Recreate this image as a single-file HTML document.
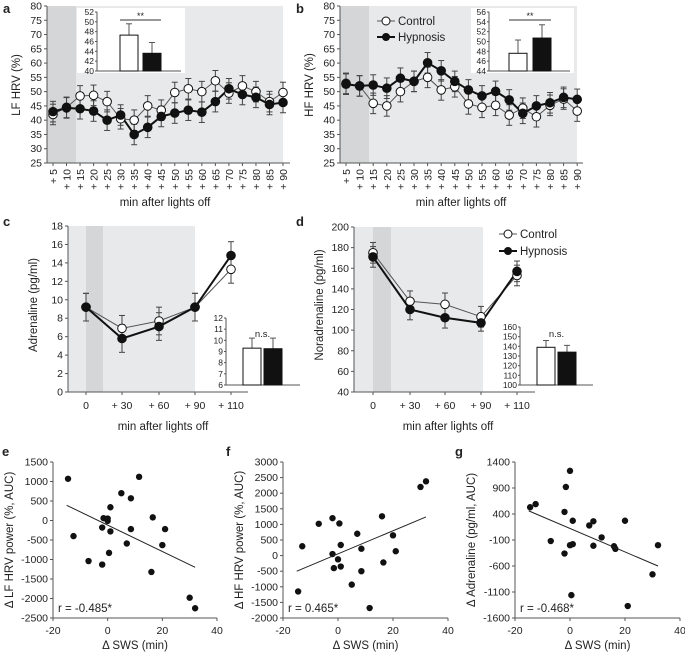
<!DOCTYPE html>
<html><head><meta charset="utf-8"><style>
html,body{margin:0;padding:0;background:#fff}
svg{display:block;font-family:"Liberation Sans",sans-serif}
</style></head><body>
<svg id="fig" width="685" height="654" viewBox="0 0 685 654" xmlns="http://www.w3.org/2000/svg"></svg>
<script>
// ---- data ----
const hrvTimes = ['+ 5','+ 10','+ 15','+ 20','+ 25','+ 30','+ 35','+ 40','+ 45','+ 50','+ 55','+ 60','+ 65','+ 70','+ 75','+ 80','+ 85','+ 90'];
const lfControl = [42,44.5,48.5,48.7,46.5,40.5,40,45,43.5,49.7,51,50,53.8,49.5,52,50,46.5,49.7];
const lfHypnosis = [43,44.3,44,43.2,40,41.8,35,37.5,41.3,42.5,43.5,42.8,46.5,51,49,48,45.5,46.2];
const hfControl = [52.9,52.0,45.9,45.0,50.0,53.6,55.0,50.6,51.7,45.7,44.5,45.2,41.8,44.2,41.2,45.2,47.4,43.2];
const hfHypnosis = [52.6,52.0,52.3,51.2,54.7,53.6,60.1,57.3,53.6,50.6,48.5,50.1,47.1,42.4,45.0,46.1,48.0,47.3];
const hrvErr = 3.6;
const hrvTicks = [25,30,35,40,45,50,55,60,65,70,75,80];
const lfBars = [47.3,43.6], lfBarErr = [2.3,2.2], lfInsetTicks=[40,42,44,46,48,50,52];
const hfBars = [47.6,50.7], hfBarErr = [2.7,2.7], hfInsetTicks=[44,46,48,50,52,54,56];
const catTimes = ['0','+ 30','+ 60','+ 90','+ 110'];
const adrControl = [9.2,6.9,7.7,9.2,13.3], adrHypnosis=[9.2,5.8,7.1,9.2,14.8];
const adrErrC=[1.5,1.4,1.5,1.5,1.5], adrErrH=[1.5,1.5,1.5,1.5,1.5];
const adrTicks=[0,2,4,6,8,10,12,14,16,18];
const adrBars=[9.3,9.25], adrBarErr=[0.9,0.95], adrInsetTicks=[6,7,8,9,10,11,12];
const noraControl=[175,128,125,113,153], noraHypnosis=[171,120,112,107,157];
const noraErrC=[10,10,11,10,10], noraErrH=[10,10,10,8,10];
const noraTicks=[40,60,80,100,120,140,160,180,200];
const noraBars=[139,134], noraBarErr=[7,7], noraInsetTicks=[100,110,120,130,140,150,160];
const swsE=[-14.5,-12.5,-7,-2,-2,-1.5,0,0,0.5,1,1,5,7,8.5,8.5,11.5,16,16.5,20,21,30,32];
const lfAuc=[1070,-400,-1040,-1130,-180,60,50,-10,-830,-280,340,700,-590,570,-220,1120,-1320,80,-630,-220,-1980,-2250];
const swsF=[-14.5,-13,-7,-2,-2,-1.5,0,0.5,1,1,5,7,8.5,8.5,11.5,16,16.5,20,21,30,32];
const hfAuc=[-1150,300,1020,1200,50,-400,-120,1030,340,-350,-930,700,220,-500,-1680,1260,-220,650,140,2200,2380];
const swsG=[-14.5,-12.5,-7,-2,-2,-1.5,0,0,0.5,1,1,7,8.5,8.5,11.5,16,16.5,20,21,30,32];
const adrAuc=[530,590,-120,-360,440,920,1230,-200,-1160,-180,270,180,-210,260,-50,-220,-270,270,-1370,-760,-200];
const fitE=[[-15,390],[32,-1200]], fitF=[[-15,-500],[32,1240]], fitG=[[-15,460],[32,-600]];

const NS='http://www.w3.org/2000/svg';
const svg=document.getElementById('fig');
function mk(tag,attrs,parent,txt){const e=document.createElementNS(NS,tag);for(const k in attrs)e.setAttribute(k,attrs[k]);if(txt!==undefined)e.textContent=txt;(parent||svg).appendChild(e);return e;}
function group(name){const g=mk('g',{});


return g;}
function line(g,x1,y1,x2,y2,c,w){return mk('line',{x1,y1,x2,y2,stroke:c||'#333','stroke-width':w||1},g);}
function text(g,x,y,s,size,anchor,extra){const t=mk('text',Object.assign({x,y,'font-size':size||10,'text-anchor':anchor||'middle',fill:'#222'},extra||{}),g,s);return t;}

function linScale(d0,d1,r0,r1){return v=>r0+(v-d0)*(r1-r0)/(d1-d0);}

function timePanel(o){
  const g=group(o.name);
  const y=linScale(o.ymin,o.ymax,o.y0,o.y1);
  const x=i=>o.xs(i);
  mk('rect',{x:o.left,y:o.y1,width:o.grayEnd-o.left,height:o.y0-o.y1,fill:'#e8e9ea'},g);
  mk('rect',{x:o.darkStart,y:o.y1,width:o.darkEnd-o.darkStart,height:o.y0-o.y1,fill:'#d5d6d7'},g);
  line(g,o.left,o.y1,o.left,o.y0,'#555');
  line(g,o.left,o.y0,o.right,o.y0,'#555');
  o.yticks.forEach(v=>{line(g,o.left-3,y(v),o.left,y(v),'#555');
    const t=text(g,o.left-5,y(v)+3.5,String(v),10.5,'end');
    
    });
  inset(g,o.inset);
  o.cats.forEach((c,i)=>{line(g,x(i),o.y0,x(i),o.y0+3,'#555');
    let t;
    if(o.rot){t=text(g,x(i)+4,o.y0+6,c,10.5,'end',{transform:`rotate(-90 ${x(i)+4} ${o.y0+6})`});}
    else{t=text(g,x(i),o.y0+17,c,10.5,'middle');}
    
    });
  const series=[[o.c,o.ec,'#fff','#555',1],[o.h,o.eh,'#111','#111',2]];
  series.forEach(([vals,err,fill,stroke,w],si)=>{
    const pts=vals.map((v,i)=>[x(i),y(v)]);
    const pl=mk('polyline',{points:pts.map(p=>p.join(',')).join(' '),fill:'none',stroke,'stroke-width':w},g);
    
    
    vals.forEach((v,i)=>{const e=Array.isArray(err)?err[i]:err;
      line(g,x(i),y(v+e),x(i),y(v-e),'#444',1);
      line(g,x(i)-3,y(v+e),x(i)+3,y(v+e),'#444',1);
      line(g,x(i)-3,y(v-e),x(i)+3,y(v-e),'#444',1);});
  });
  series.forEach(([vals,err,fill,stroke],si)=>{
    vals.forEach((v,i)=>{const c=mk('circle',{cx:x(i),cy:y(v),r:4.3,fill,stroke:'#111','stroke-width':1},g);
      
      });
  });
  const yt=text(g,o.ytx,o.yty,o.ylabel,11.5,'middle',{transform:`rotate(-90 ${o.ytx} ${o.yty})`});
  
  
  const xt=text(g,o.xtx,o.xty,'min after lights off',11.5,'middle');
  
  
  const pl=text(g,o.plx,o.ply,o.letter,13,'start',{'font-weight':'bold'});
  
  
}
function inset(pg,o){
  const g=group('inset-bar-chart');
  pg.appendChild(g);
  const bl=o.boxLeft!==undefined?o.boxLeft:o.left-22;
  mk('rect',{x:bl,y:o.top-4,width:o.right-bl+4,height:o.bottom-o.top+6,fill:'#fff'},g);
  const y=linScale(o.ticks[0],o.ticks[o.ticks.length-1],o.bottom,o.top);
  line(g,o.left,o.top,o.left,o.bottom,'#555');
  line(g,o.left,o.bottom,o.right,o.bottom,'#555');
  o.ticks.forEach(v=>{line(g,o.left-2,y(v),o.left,y(v),'#555');
    const t=text(g,o.left-3,y(v)+3,String(v),8.5,'end');
    
    });
  o.vals.forEach((v,i)=>{const bx=o.bx[i];
    line(g,bx+o.bw/2,y(v),bx+o.bw/2,y(v+o.err[i]),'#555');
    line(g,bx+o.bw/2-3,y(v+o.err[i]),bx+o.bw/2+3,y(v+o.err[i]),'#555');
    const r=mk('rect',{x:bx,y:y(v),width:o.bw,height:o.bottom-y(v),fill:i?'#111':'#fff',stroke:'#111','stroke-width':1},g);
    
    });
  if(o.sig){line(g,o.bx[0],o.sigY,o.bx[1]+o.bw,o.sigY,'#333');
    text(g,(o.bx[0]+o.bx[1]+o.bw)/2,o.sigY-1,'**',9,'middle');}
  else{text(g,(o.bx[0]+o.bx[1]+o.bw)/2,o.sigY,'n.s.',9.5,'middle');}
}

timePanel({name:'panel-a-lf-hrv',letter:'a',plx:3,ply:13,left:47,right:290,y0:163,y1:6,ymin:25,ymax:80,
  xs:i=>53+i*13.53,grayEnd:283,darkStart:47,darkEnd:76,yticks:hrvTicks,cats:hrvTimes,rot:true,
  c:lfControl,h:lfHypnosis,ec:hrvErr,eh:hrvErr,ylabel:'LF HRV (%)',ytx:20,yty:85,xtx:165,xty:206,
  inset:{left:97,boxLeft:77,right:181,top:12,bottom:71,ticks:lfInsetTicks,vals:lfBars,err:lfBarErr,bx:[120,143],bw:18,sig:true,sigY:20}});
timePanel({name:'panel-b-hf-hrv',letter:'b',plx:296,ply:13,left:340,right:583,y0:163,y1:6,ymin:25,ymax:80,
  xs:i=>346+i*13.6,grayEnd:577,darkStart:340,darkEnd:369,yticks:hrvTicks,cats:hrvTimes,rot:true,
  c:hfControl,h:hfHypnosis,ec:hrvErr,eh:hrvErr,ylabel:'HF HRV (%)',ytx:313,yty:85,xtx:461,xty:206,
  inset:{left:489,boxLeft:471,right:570,top:12,bottom:71,ticks:hfInsetTicks,vals:hfBars,err:hfBarErr,bx:[509,533],bw:18,sig:true,sigY:20}});
timePanel({name:'panel-c-adrenaline',letter:'c',plx:3,ply:226,left:68,right:248,y0:392,y1:226,ymin:0,ymax:18,
  xs:i=>[86,122,159,195,231][i],grayEnd:195,darkStart:86,darkEnd:103,yticks:adrTicks,cats:catTimes,rot:false,
  c:adrControl,h:adrHypnosis,ec:adrErrC,eh:adrErrH,ylabel:'Adrenaline (pg/ml)',ytx:37,yty:305,xtx:163,xty:430,
  inset:{left:226,right:300,top:318,bottom:385,ticks:adrInsetTicks,vals:adrBars,err:adrBarErr,bx:[243,264],bw:18,sig:false,sigY:337}});
timePanel({name:'panel-d-noradrenaline',letter:'d',plx:296,ply:226,left:354,right:535,y0:392,y1:227,ymin:40,ymax:200,
  xs:i=>[373,410,445,481,517][i],grayEnd:483,darkStart:373,darkEnd:391,yticks:noraTicks,cats:catTimes,rot:false,
  c:noraControl,h:noraHypnosis,ec:noraErrC,eh:noraErrH,ylabel:'Noradrenaline (pg/ml)',ytx:323,yty:305,xtx:448,xty:430,
  inset:{left:520,right:593,top:327,bottom:385,ticks:noraInsetTicks,vals:noraBars,err:noraBarErr,bx:[537,558],bw:18,sig:false,sigY:337}});

function legend(x,y1,y2,name){const g=group(name);
  line(g,x-9,y1,x+9,y1,'#555',1);mk('circle',{cx:x,cy:y1,r:4,fill:'#fff',stroke:'#111'},g);
  text(g,x+12,y1+4,'Control',11.5,'start');
  line(g,x-9,y2,x+9,y2,'#111',2);mk('circle',{cx:x,cy:y2,r:4,fill:'#111'},g);
  text(g,x+12,y2+4,'Hypnosis',11.5,'start');}
legend(386,21,37,'legend-b');
legend(508,234,251,'legend-d');

function scatter(o){
  const g=group(o.name);
  const x=linScale(-20,40,o.xl,o.xr), y=linScale(o.ymin,o.ymax,o.yb,o.yt);
  line(g,o.xl,o.yt,o.xl,o.yb,'#555');line(g,o.xl,o.yb,o.xr,o.yb,'#555');
  o.yticks.forEach(v=>{line(g,o.xl-3,y(v),o.xl,y(v),'#555');
    const t=text(g,o.xl-5,y(v)+3.5,String(v),10.5,'end');
    
    });
  [-20,0,20,40].forEach(v=>{line(g,x(v),o.yb,x(v),o.yb+3,'#555');
    const t=text(g,x(v),o.yb+16,String(v),10.5,'middle');
    
    });
  o.xs.forEach((v,i)=>{const c=mk('circle',{cx:x(v),cy:y(o.ys[i]),r:3.2,fill:'#111'},g);
    
    });
  const f=line(g,x(o.fit[0][0]),y(o.fit[0][1]),x(o.fit[1][0]),y(o.fit[1][1]),'#222',1);
  
  
  const r=text(g,o.xl+5,o.yb-6,o.r,11.5,'start');
  
  
  const yt=text(g,o.xl-40,(o.yt+o.yb)/2,o.ylabel,11.5,'middle',{transform:`rotate(-90 ${o.xl-40} ${(o.yt+o.yb)/2})`});
  
  
  const xt=text(g,(o.xl+o.xr)/2,o.yb+31,'Δ SWS (min)',11.5,'middle');
  
  
  const pl=text(g,o.plx,456,o.letter,13,'start',{'font-weight':'bold'});
  
  
}
scatter({name:'panel-e',letter:'e',plx:2,xl:53,xr:217,yt:462,yb:618,ymin:-2500,ymax:1500,yticks:[-2500,-2000,-1500,-1000,-500,0,500,1000,1500],
  xs:swsE,ys:lfAuc,fit:fitE,r:'r = -0.485*',ylabel:'Δ LF HRV power (%, AUC)'});
scatter({name:'panel-f',letter:'f',plx:226,xl:283,xr:448,yt:462,yb:618,ymin:-2000,ymax:3000,yticks:[-2000,-1500,-1000,-500,0,500,1000,1500,2000,2500,3000],
  xs:swsF,ys:hfAuc,fit:fitF,r:'r = 0.465*',ylabel:'Δ HF HRV power (%, AUC)'});
scatter({name:'panel-g',letter:'g',plx:455,xl:515,xr:680,yt:462,yb:618,ymin:-1600,ymax:1400,yticks:[-1600,-1100,-600,-100,400,900,1400],
  xs:swsG,ys:adrAuc,fit:fitG,r:'r = -0.468*',ylabel:'Δ Adrenaline (pg/ml, AUC)'});
</script>
</body></html>
